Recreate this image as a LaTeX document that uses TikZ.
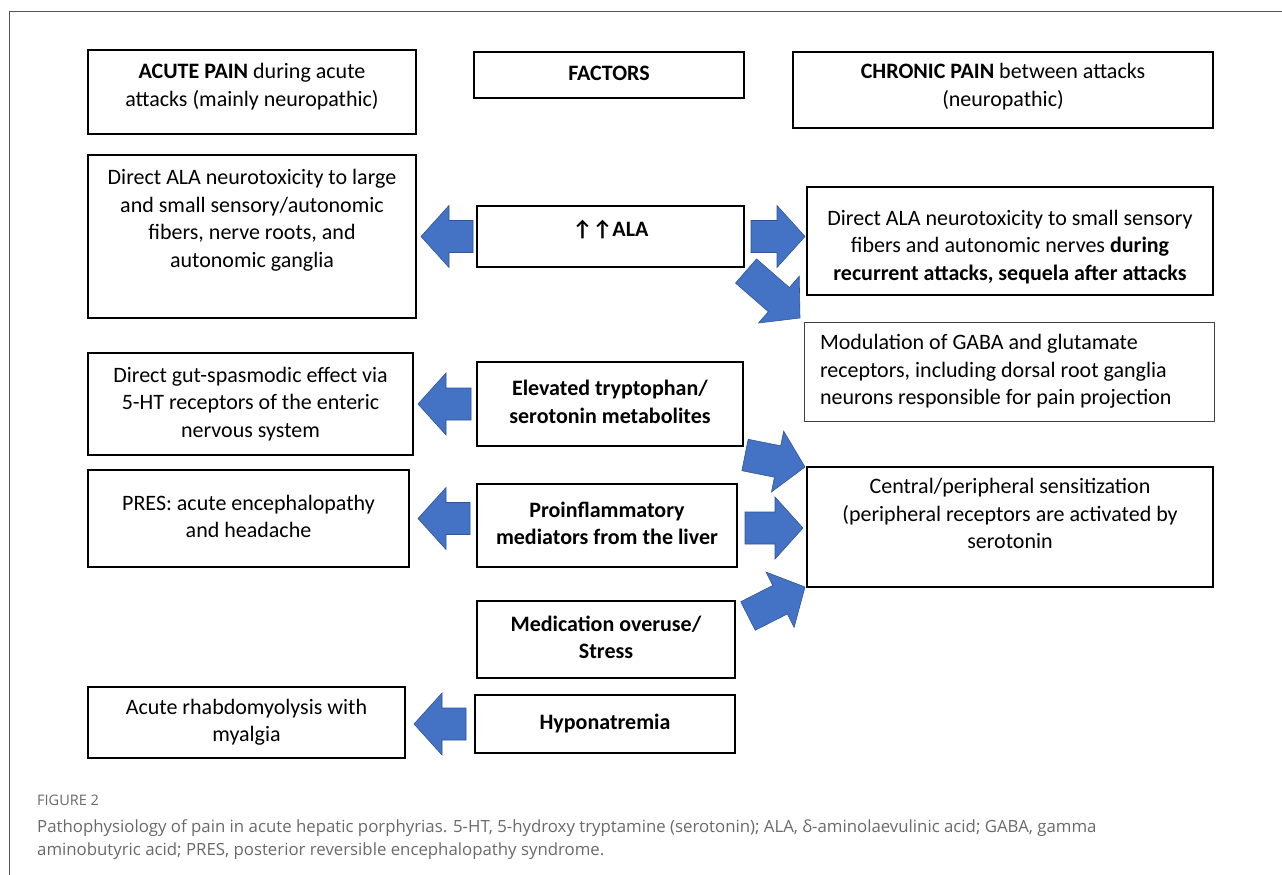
\documentclass[tikz,border=0pt]{standalone}
\usepackage{fontspec}
\setmainfont{Carlito}
\newfontfamily\capfont{Open Sans}
\newfontfamily\symfont{DejaVu Sans}
\usetikzlibrary{calc}
\definecolor{arrowblue}{HTML}{4472C4}
\definecolor{arrowedge}{HTML}{2F5597}
\definecolor{capgray}{HTML}{6A6A6A}
\definecolor{framegray}{HTML}{555555}
\newcommand\bxt[4]{\begin{minipage}[c][#2][t]{#1}\centering\vspace*{#3}\strut #4\strut\end{minipage}}
\newcommand\bxc[3]{\begin{minipage}[c][#2][c]{#1}\centering\strut #3\strut\end{minipage}}
\newcommand\bxl[4]{\begin{minipage}[c][#2][t]{#1}\raggedright\leftskip=16pt\vspace*{#3}\strut #4\strut\end{minipage}}
\newcommand\blockarrow[2]{%
  \coordinate (ba-s) at #1;
  \coordinate (ba-e) at #2;
  \coordinate (ba-c) at ($(ba-e)!28pt!(ba-s)$);
  \filldraw[barrow] ($(ba-s)!16pt!90:(ba-e)$) -- ($(ba-c)!16pt!90:(ba-e)$) -- ($(ba-c)!31pt!90:(ba-e)$) -- (ba-e) -- ($(ba-c)!31pt!-90:(ba-e)$) -- ($(ba-c)!16pt!-90:(ba-e)$) -- ($(ba-s)!16pt!-90:(ba-e)$) -- cycle;}
\tikzset{
  box/.style={draw=black, line width=1.5pt, inner sep=0pt, outer sep=0pt, font=\fontsize{22pt}{27.5pt}\selectfont},
  thinbox/.style={box, line width=0.9pt, draw=black!75},
  barrow/.style={fill=arrowblue, draw=arrowedge, line width=0.6pt, line join=miter},
}
\begin{document}
\begin{tikzpicture}[x=1pt,y=-1pt]
\useasboundingbox (0,0) rectangle (1282,875);
\fill[white] (0,0) rectangle (1282,875);
\draw[framegray, line width=1pt] (9,875) -- (9,12) -- (1282,12);

% header row
\node[box] (acute) at (252,92) {\bxt{328pt}{84pt}{9.4pt}{\textbf{ACUTE PAIN} during acute\\attacks (mainly neuropathic)}};
\node[box] (factors) at (609,75) {\bxc{270pt}{46pt}{\textbf{FACTORS}}};
\node[box] (chronic) at (1003,90) {\bxt{420pt}{76pt}{7.4pt}{\textbf{CHRONIC PAIN} between attacks\\(neuropathic)}};

% ALA row
\node[box] (l1) at (252,236.5) {\bxt{328pt}{163pt}{10.4pt}{Direct ALA neurotoxicity to large\\and small sensory/autonomic\\fibers, nerve roots, and\\autonomic ganglia}};
\node[box] (ala) at (610.5,236.5) {\bxt{267pt}{61pt}{11.4pt}{\textbf{↑↑ALA}}};
\node[box] (r1) at (1010,241) {\bxt{406pt}{108pt}{19pt}{Direct ALA neurotoxicity to small sensory\\fibers and autonomic nerves \textbf{during}\\\textbf{recurrent attacks, sequela after attacks}}};
\node[thinbox] (r2) at (1009,371.5) {\bxl{410pt}{99pt}{8.4pt}{Modulation of GABA and glutamate\\receptors, including dorsal root ganglia\\neurons responsible for pain projection}};

% tryptophan row
\node[box] (l2) at (250.5,404) {\bxc{325pt}{102pt}{Direct gut-spasmodic effect via\\5-HT receptors of the enteric\\nervous system}};
\node[box] (trp) at (610,404) {\bxc{266pt}{84pt}{\textbf{Elevated tryptophan/}\\\textbf{serotonin metabolites}}};

% proinflammatory row
\node[box] (l3) at (248.5,518.5) {\bxc{321pt}{97pt}{PRES: acute encephalopathy\\and headache}};
\node[box] (pro) at (607,525.5) {\bxc{260pt}{83pt}{\textbf{Proinflammatory}\\\textbf{mediators from the liver}}};
\node[box] (central) at (1010,527) {\bxt{406pt}{120pt}{7.4pt}{Central/peripheral sensitization\\(peripheral receptors are activated by\\serotonin}};

% medication / hyponatremia
\node[box] (med) at (606,639.5) {\bxc{258pt}{77pt}{\textbf{Medication overuse/}\\\textbf{Stress}}};
\node[box] (l4) at (246.5,722.5) {\bxc{317pt}{71pt}{Acute rhabdomyolysis with\\myalgia}};
\node[box] (hypo) at (605,724) {\bxc{260pt}{58pt}{\textbf{Hyponatremia}}};

% block arrows
\blockarrow{($(ala.west)+(-4,0)$)}{($(ala.west -| l1.east)+(5,0)$)}
\blockarrow{($(ala.east)+(7,0)$)}{($(ala.east -| r1.west)+(-2,0)$)}
\blockarrow{($(ala.south east)+(2,4)$)}{($(r2.north west)+(-4,-4)$)}
\blockarrow{($(trp.west)+(-6,0)$)}{($(trp.west -| l2.east)+(5,0)$)}
\blockarrow{($(trp.south east)+(2,9)$)}{($(central.north west)+(-2,0)$)}
\blockarrow{($(pro.west |- l3.east)+(-7,0)$)}{($(l3.east)+(9,0)$)}
\blockarrow{($(pro.east)+(8,2.5)$)}{($(pro.east -| central.west)+(-4,2.5)$)}
\blockarrow{($(med.north east)+(13,15)$)}{($(central.south west)+(-2,0)$)}
\blockarrow{($(hypo.west)+(-9,0)$)}{($(hypo.west -| l4.east)+(9,0)$)}

% caption
\node[anchor=west, inner sep=0pt, font=\capfont\fontsize{14.5pt}{16pt}\selectfont, text=capgray] (figlabel) at (37,800) {FIGURE 2};
\node[anchor=north west, inner sep=0pt, align=left, font=\capfont\fontsize{16.8pt}{23.5pt}\selectfont, text=capgray] (caption) at (37,819) {Pathophysiology of pain in acute hepatic porphyrias. 5-HT, 5-hydroxy tryptamine (serotonin); ALA, δ-aminolaevulinic acid; GABA, gamma\\aminobutyric acid; PRES, posterior reversible encephalopathy syndrome.};
\end{tikzpicture}
\end{document}
